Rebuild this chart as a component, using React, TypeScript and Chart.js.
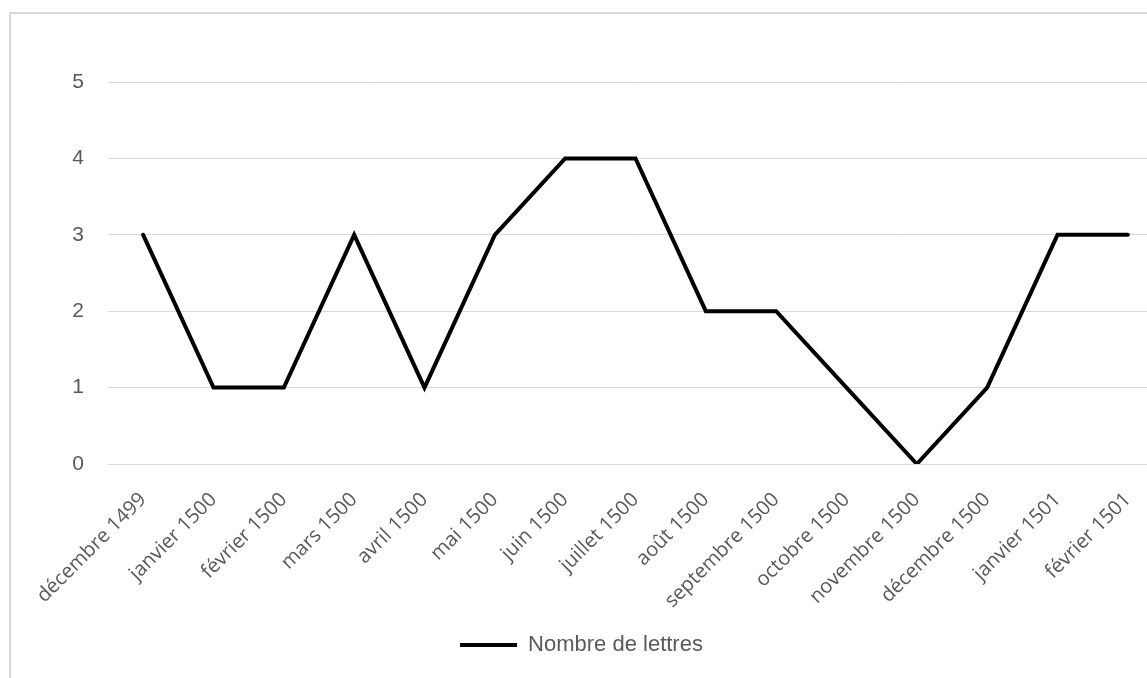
import React, { useEffect, useRef } from "react";
import { Chart, registerables } from "chart.js";

Chart.register(...registerables);

const categories = [
  "décembre 1499",
  "janvier 1500",
  "février 1500",
  "mars 1500",
  "avril 1500",
  "mai 1500",
  "juin 1500",
  "juillet 1500",
  "août 1500",
  "septembre 1500",
  "octobre 1500",
  "novembre 1500",
  "décembre 1500",
  "janvier 1501",
  "février 1501",
];
const letterCounts = [3, 1, 1, 3, 1, 3, 4, 4, 2, 2, 1, 0, 1, 3, 3];
const seriesName = "Nombre de lettres";
const yMin = 0;
const yMax = 5;

export default function App() {
  const canvasRef = useRef<HTMLCanvasElement | null>(null);

  useEffect(() => {
    document.body.style.overflow = "hidden";
    const ctx = canvasRef.current!.getContext("2d")!;
    const chart = new Chart(ctx, {
      type: "line",
      data: {
        labels: categories,
        datasets: [
          {
            label: seriesName,
            data: letterCounts,
            borderColor: "#000000",
            backgroundColor: "#000000",
            borderWidth: 4,
            borderCapStyle: "round",
            borderJoinStyle: "miter",
            pointRadius: 0,
            pointHoverRadius: 0,
            tension: 0,
            fill: false,
            pointStyle: "line",
          },
        ],
      },
      options: {
        responsive: false,
        animation: false,
        layout: { padding: { top: 82, right: 12, left: 0, bottom: 12 } },
        plugins: {
          tooltip: { enabled: false },
          legend: {
            position: "bottom",
            labels: {
              usePointStyle: true,
              pointStyleWidth: 57,
              color: "#595959",
              font: { family: "Liberation Sans", size: 22 },
              padding: 10,
            },
          },
        },
        scales: {
          x: {
            offset: true,
            grid: { display: false },
            border: { display: false },
            ticks: {
              minRotation: 45,
              maxRotation: 45,
              autoSkip: false,
              color: "#595959",
              font: { family: "Open Sans", size: 20 },
              padding: 16,
            },
            afterFit: (scale: any) => {
              scale.height = 160;
            },
          },
          y: {
            min: yMin,
            max: yMax,
            border: { display: false },
            grid: { color: "#d9d9d9", lineWidth: 1, drawTicks: false },
            ticks: {
              stepSize: 1,
              color: "#595959",
              font: { family: "Liberation Sans", size: 21 },
              padding: 24,
            },
            afterFit: (scale: any) => {
              scale.width = 108;
            },
          },
        },
      },
    });
    return () => chart.destroy();
  }, []);

  return (
    <div
      style={{
        position: "fixed",
        left: 0,
        top: 0,
        width: 1147,
        height: 678,
        overflow: "hidden",
        background: "#ffffff",
      }}
    >
      <div
        style={{
          position: "absolute",
          left: 9,
          top: 12,
          width: 1400,
          height: 900,
          border: "2px solid #d9d9d9",
          boxSizing: "border-box",
        }}
      />
      <canvas
        ref={canvasRef}
        width={1175}
        height={678}
        style={{ position: "absolute", left: 0, top: 0, display: "block" }}
      />
    </div>
  );
}
